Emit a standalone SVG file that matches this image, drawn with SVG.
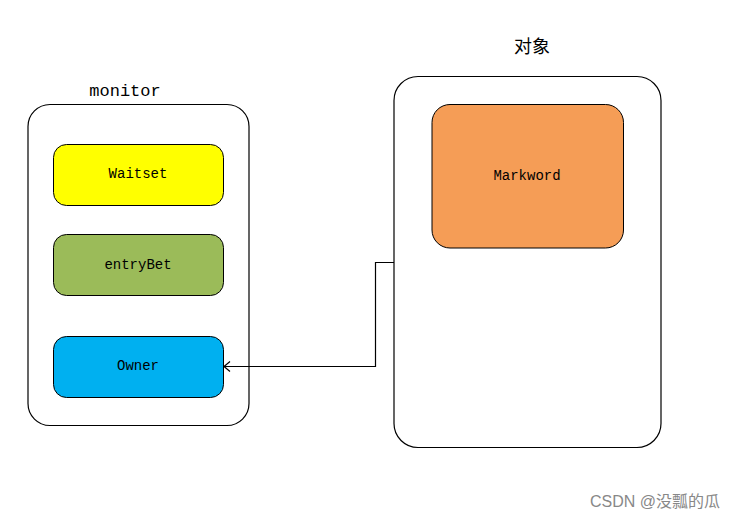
<svg xmlns="http://www.w3.org/2000/svg" width="735" height="520" viewBox="0 0 735 520">
<style>
.frame{fill:#fff;stroke:#000;stroke-width:1.2}
.box{stroke:#000;stroke-width:1}
.t{font-family:"Liberation Mono","Noto Sans CJK SC",monospace;font-size:14px;fill:#000;text-anchor:middle;dominant-baseline:central}
.lbl{font-family:"Liberation Mono","Noto Sans CJK SC",monospace;font-size:17px;fill:#000;text-anchor:middle}
.cjk{font-family:"Noto Sans CJK SC",sans-serif;font-size:18px;fill:#000;text-anchor:middle}
.wm{font-family:"Liberation Sans","Noto Sans CJK SC",sans-serif;font-size:16px;fill:#888;text-anchor:end}
.conn{fill:none;stroke:#000;stroke-width:1.2}
</style>
<defs>
<marker id="open" markerWidth="10" markerHeight="12" refX="7" refY="6" orient="auto" markerUnits="userSpaceOnUse">
<path d="M1,1 L7,6 L1,11" fill="none" stroke="#000" stroke-width="1.2"/>
</marker>
</defs>
<rect width="735" height="520" fill="#fff"/>
<g id="monitor">
<rect class="frame" x="28" y="104.5" width="221" height="321" rx="22"/>
<text class="lbl" x="125" y="96">monitor</text>
</g>
<g id="object">
<rect class="frame" x="394" y="76.5" width="267" height="371" rx="24"/>
<text class="cjk" x="532" y="53">对象</text>
</g>
<g id="waitset">
<rect class="box" x="53.5" y="144.5" width="170" height="61" rx="13" fill="#ffff00"/>
<text class="t" x="138" y="174">Waitset</text>
</g>
<g id="entrybet">
<rect class="box" x="53.5" y="234.5" width="170" height="61" rx="13" fill="#9bbb59"/>
<text class="t" x="138" y="265">entryBet</text>
</g>
<g id="owner">
<rect class="box" x="53.5" y="336.5" width="170" height="61" rx="13" fill="#00b0f0"/>
<text class="t" x="138" y="366">Owner</text>
</g>
<g id="markword">
<rect class="box" x="432" y="104.5" width="191.5" height="143.5" rx="18" fill="#f59d56"/>
<text class="t" x="527" y="176">Markword</text>
</g>
<g id="connectors">
<path class="conn" d="M394,262.5 H375.5 V366.5 H224" marker-end="url(#open)"/>
</g>
<text class="wm" x="720" y="507">CSDN @没瓢的瓜</text>
</svg>
